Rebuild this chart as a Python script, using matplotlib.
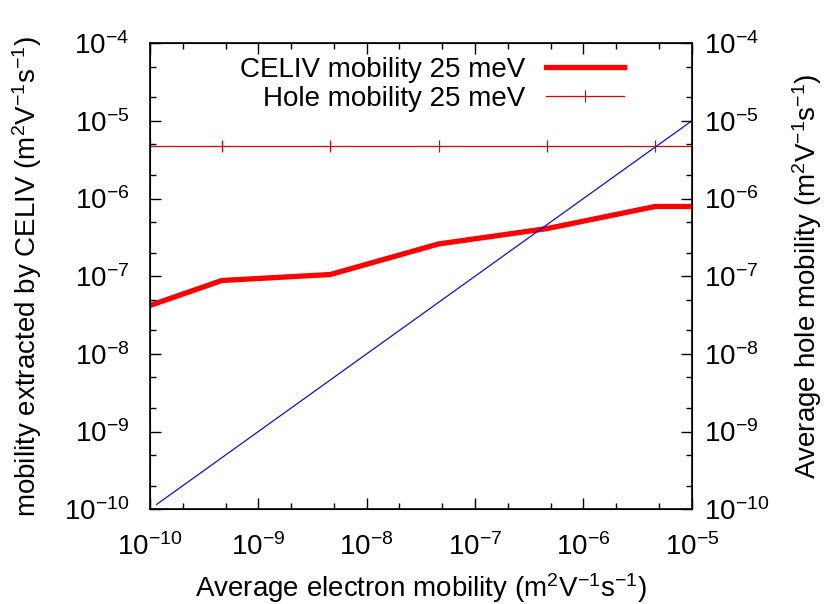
import matplotlib
matplotlib.use("Agg")
import matplotlib.pyplot as plt
from matplotlib.ticker import LogLocator, NullFormatter

plt.rcParams['font.family'] = ['Liberation Sans', 'DejaVu Sans']
plt.rcParams['mathtext.fontset'] = 'custom'
plt.rcParams['mathtext.rm'] = 'Liberation Sans'
plt.rcParams['mathtext.it'] = 'Liberation Sans'

# dane
electron_mob = [1e-10, 4.6e-10, 4.6e-9, 4.6e-8, 4.6e-7, 4.6e-6, 1e-5]
celiv_mob = [4.2e-8, 8.8e-8, 1.05e-7, 2.6e-7, 4.1e-7, 7.9e-7, 7.9e-7]
hole_mob = [4.7e-6, 4.7e-6, 4.7e-6, 4.7e-6, 4.7e-6, 4.7e-6, 4.7e-6]
diag_x = [1.15e-10, 1e-5]
diag_y = [1.15e-10, 1e-5]

unit = r'(m$^{\mathdefault{2}}$V$^{\mathdefault{-1}}$s$^{\mathdefault{-1}}$)'
fs = 20

fig = plt.figure(figsize=(8.31, 6.04), dpi=100)
ax = fig.add_axes([0.1805, 0.157, 0.652, 0.7715])

ax.plot(electron_mob, celiv_mob, color='#ff0000', lw=3.8, label='CELIV mobility 25 meV',
        solid_joinstyle='miter')
ax.plot(electron_mob, hole_mob, color='#dd0000', lw=0.9, marker='|', ms=9, mew=0.9,
        label='Hole mobility 25 meV')
ax.plot(diag_x, diag_y, color='#1010cc', lw=0.9)

ax.set_xscale('log')
ax.set_yscale('log')
ax.set_xlim(1e-10, 1e-5)
ax.set_ylim(1e-10, 1e-4)

ax2 = ax.twinx()
ax2.set_yscale('log')
ax2.set_ylim(1e-10, 1e-4)

for a in (ax, ax2):
    for axis in ([a.xaxis, a.yaxis] if a is ax else [a.yaxis]):
        axis.set_major_locator(LogLocator(base=10, numticks=20))
        axis.set_minor_locator(LogLocator(base=10, subs=(2.0, 5.0), numticks=20))
        axis.set_minor_formatter(NullFormatter())
    a.tick_params(which='major', direction='in', length=8, width=1, labelsize=fs, pad=9)
    a.tick_params(which='minor', direction='in', length=4, width=1)

ax.tick_params(which='both', top=True, right=False)
ax.tick_params(axis='x', pad=17)
ax.tick_params(axis='y', pad=15)
ax2.tick_params(which='both', right=True, left=False)

for s in ax.spines.values():
    s.set_linewidth(1.2)

ax.set_xlabel('Average electron mobility ' + unit, fontsize=fs, labelpad=8)
ax.set_ylabel('mobility extracted by CELIV ' + unit, fontsize=fs, labelpad=14)
ax2.set_ylabel('Average hole mobility ' + unit, fontsize=fs, labelpad=15)

ax.legend(loc='upper right', bbox_to_anchor=(0.9, 1.0), frameon=False, markerfirst=False,
          fontsize=fs, handlelength=2.8, borderpad=0, labelspacing=0.1, handletextpad=0.75)

fig.savefig('out.png', dpi=100, facecolor='white')
